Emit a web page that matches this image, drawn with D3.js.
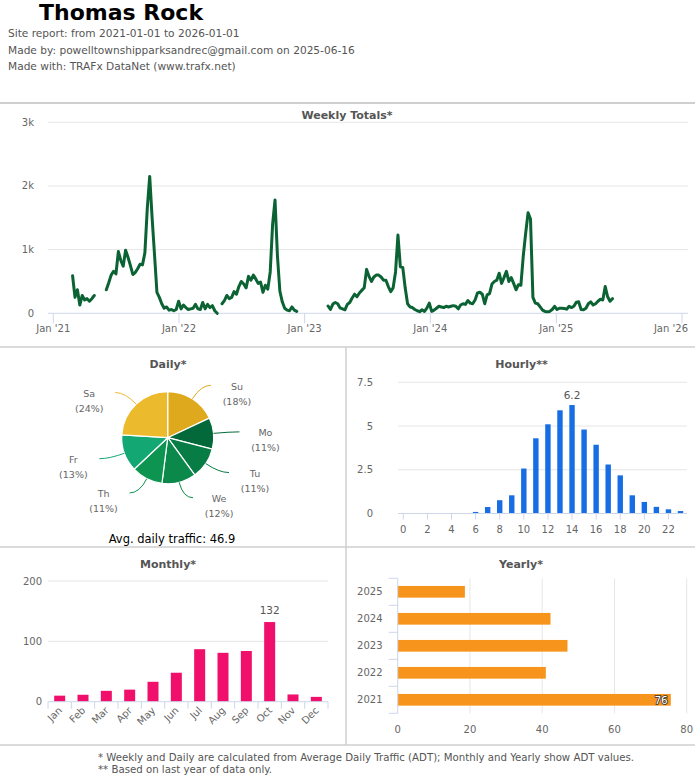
<!DOCTYPE html>
<html><head><meta charset="utf-8">
<script src="https://cdn.jsdelivr.net/npm/d3@7"></script>
<style>
body{margin:0;background:#fff;}
svg{display:block;font-family:"DejaVu Sans",sans-serif;}
</style>
</head><body>
<svg id="c" width="695" height="775"></svg>
<script>
// ---------- DATA ----------
const siteName = "Thomas Rock";
const subtitleLines = [
  "Site report: from 2021-01-01 to 2026-01-01",
  "Made by: powelltownshipparksandrec@gmail.com on 2025-06-16",
  "Made with: TRAFx DataNet (www.trafx.net)"
];
const weeklyStart = "2021-01-01";
const weeklyTotals = [
  null,null,null,null,null,null,null,null,
  590,250,370,130,280,210,230,190,230,280,
  null,null,null,null,
  370,480,600,660,620,970,830,740,990,880,
  750,610,640,700,770,760,950,1650,2150,1500,
  920,330,250,150,80,100,50,60,40,60,
  190,70,130,90,60,70,80,140,70,60,
  170,70,140,90,120,40,0,
  null,
  150,200,280,230,250,340,300,420,500,460,
  400,580,520,600,540,470,490,330,440,380,
  650,1400,1780,900,350,180,80,50,40,100,
  50,30,
  null,null,null,null,null,null,null,null,null,null,null,null,
  115,60,145,170,150,
  85,70,55,140,170,240,300,260,320,360,
  400,690,580,500,570,600,600,570,520,520,
  420,340,400,650,1230,730,720,400,150,100,
  90,60,40,25,55,30,80,160,30,50,
  80,110,100,90,110,100,110,120,110,70,
  130,150,140,200,160,150,210,320,330,300,
  150,290,310,460,500,520,630,470,560,660,
  500,560,470,370,450,440,900,1260,1580,1480,
  250,160,150,100,50,30,25,30,60,110,
  60,80,80,75,65,110,90,110,175,180,
  60,55,80,150,180,130,150,190,220,210,
  420,260,190,230
];
const weeklyYTicks = [0, 1000, 2000, 3000];
const weeklyYLabels = ["0", "1k", "2k", "3k"];
const weeklyXTicks = ["2021-01-01","2022-01-01","2023-01-01","2024-01-01","2025-01-01","2026-01-01"];
const weeklyXLabels = ["Jan '21","Jan '22","Jan '23","Jan '24","Jan '25","Jan '26"];

const dayNames = ["Su","Mo","Tu","We","Th","Fr","Sa"];
const dayShares = [18, 11, 11, 12, 11, 13, 24];
const dayColors = ["#dea91d","#04693a","#077c44","#0a894b","#0d9451","#12a773","#ebbb2d"];
const avgDaily = 46.9;

const hours = [0,1,2,3,4,5,6,7,8,9,10,11,12,13,14,15,16,17,18,19,20,21,22,23];
const hourlyValues = [0.02,0.01,0.01,0.01,0.01,0.02,0.09,0.37,0.76,1.04,2.57,4.3,5.1,5.9,6.2,4.8,3.93,2.8,2.18,1.04,0.66,0.38,0.24,0.14];
const hourlyYTicks = [0, 2.5, 5, 7.5];
const hourlyXTicks = [0,2,4,6,8,10,12,14,16,18,20,22];

const months = ["Jan","Feb","Mar","Apr","May","Jun","Jul","Aug","Sep","Oct","Nov","Dec"];
const monthlyValues = [10, 11.5, 18, 20, 33, 48, 87, 81, 84, 132, 12, 8];
const monthlyYTicks = [0, 100, 200];

const years = ["2025","2024","2023","2022","2021"];
const yearlyValues = [18.6, 42.3, 47, 41, 75.6];
const yearlyXTicks = [0, 20, 40, 60, 80];

const footnotes = [
  "* Weekly and Daily are calculated from Average Daily Traffic (ADT); Monthly and Yearly show ADT values.",
  "** Based on last year of data only."
];

// ---------- STYLE ----------
const GRID = "#e6e6e6", AXIS = "#ccd6eb", LBL = "#666", TTL = "#555", SEP = "#cfcfcf";
const svg = d3.select("#c");
svg.append("rect").attr("width",695).attr("height",775).attr("fill","#fff");

// header
svg.append("text").attr("x",39).attr("y",19.5).attr("font-size",22).attr("font-weight","bold")
  .attr("fill","#000").text(siteName);
svg.selectAll("text.sub").data(subtitleLines).join("text").attr("class","sub")
  .attr("x",8).attr("y",(d,i)=>37+i*16.5).attr("font-size",10.6).attr("fill",TTL).text(d=>d);

// separators
const seps = [[0,103,695,103,2],[0,347,695,347,1.5],[0,547,695,547,1.5],[346,347,346,745,1.5],[0,745,695,745,1.5]];
svg.selectAll("line.sep").data(seps).join("line").attr("class","sep")
  .attr("x1",d=>d[0]).attr("y1",d=>d[1]).attr("x2",d=>d[2]).attr("y2",d=>d[3])
  .attr("stroke",SEP).attr("stroke-width",d=>d[4]);

function title(x,y,t){
  svg.append("text").attr("x",x).attr("y",y).attr("text-anchor","middle").attr("font-size",11)
    .attr("font-weight","bold").attr("fill",TTL).text(t);
}

// ---------- WEEKLY ----------
{
  const parse = d3.timeParse("%Y-%m-%d");
  const start = parse(weeklyStart);
  const data = weeklyTotals.map((v,i)=>({d:d3.timeDay.offset(start, i*7), v}));
  const x = d3.scaleTime().domain([parse("2021-01-01"), parse("2026-01-01")]).range([53.3, 682]);
  const y = d3.scaleLinear().domain([0,3000]).range([313.3, 122.3]);
  title(347, 118.5, "Weekly Totals*");
  const g = svg.append("g");
  g.selectAll("line.grid").data(weeklyYTicks.slice(1)).join("line")
    .attr("x1",48).attr("x2",688).attr("y1",d=>y(d)).attr("y2",d=>y(d)).attr("stroke",GRID);
  g.append("line").attr("x1",48).attr("x2",688).attr("y1",y(0)).attr("y2",y(0)).attr("stroke",AXIS);
  g.selectAll("text.yl").data(weeklyYTicks).join("text").attr("x",34).attr("y",d=>y(d)).attr("dy","0.35em")
    .attr("text-anchor","end").attr("font-size",10).attr("fill",LBL).text((d,i)=>weeklyYLabels[i]);
  const xt = weeklyXTicks.map(parse);
  g.selectAll("line.xt").data(xt).join("line").attr("x1",d=>x(d)).attr("x2",d=>x(d))
    .attr("y1",y(0)).attr("y2",y(0)+10).attr("stroke",AXIS);
  g.selectAll("text.xl").data(xt).join("text")
    .attr("x",(d,i)=> i===xt.length-1 ? 688 : x(d)).attr("y",331.5)
    .attr("text-anchor",(d,i)=> i===xt.length-1 ? "end" : "middle")
    .attr("font-size",10).attr("fill",LBL).text((d,i)=>weeklyXLabels[i]);
  const line = d3.line().defined(d=>d.v!=null).x(d=>x(d.d)).y(d=>y(d.v));
  g.append("path").datum(data).attr("d",line).attr("fill","none").attr("stroke","#0b6334")
    .attr("stroke-width",3).attr("stroke-linejoin","round").attr("stroke-linecap","round");
}

// ---------- DAILY PIE ----------
{
  title(168, 368, "Daily*");
  const cx = 167.7, cy = 437.7, r = 46;
  const pie = d3.pie().sort(null).startAngle(0).endAngle(2*Math.PI);
  const arcs = pie(dayShares);
  const arc = d3.arc().innerRadius(0).outerRadius(r);
  const g = svg.append("g").attr("transform",`translate(${cx},${cy})`);
  g.selectAll("path.sl").data(arcs).join("path").attr("d",arc).attr("fill",(d,i)=>dayColors[i])
    .attr("stroke","#fff").attr("stroke-width",1.2).attr("stroke-linejoin","round");
  arcs.forEach((a,i)=>{
    const m = (a.startAngle+a.endAngle)/2;
    const sx = Math.sin(m)*r, sy = -Math.cos(m)*r;
    const ex = Math.sin(m)*62, ey = -Math.cos(m)*62;
    const right = Math.sin(m) >= 0;
    const tx = ex + (right?10:-10), ty = ey;
    g.append("path").attr("d",`M${sx},${sy} Q${ex},${ey} ${tx},${ty}`)
      .attr("fill","none").attr("stroke",dayColors[i]).attr("stroke-width",1);
    const lx = tx + (right?26:-26);
    const t = g.append("text").attr("text-anchor","middle").attr("font-size",9.5).attr("fill",LBL);
    t.append("tspan").attr("x",lx).attr("y",ty+4.5).text(dayNames[i]);
    t.append("tspan").attr("x",lx).attr("y",ty+19.2).text(`(${dayShares[i]}%)`);
  });
  svg.append("text").attr("x",172).attr("y",543).attr("text-anchor","middle").attr("font-size",11.5)
    .attr("fill","#000").text(`Avg. daily traffic: ${avgDaily}`);
}

// ---------- HOURLY ----------
{
  title(521.5, 368, "Hourly**");
  const x = d3.scaleLinear().domain([-0.44, 23.54]).range([398, 687]);
  const y = d3.scaleLinear().domain([0,7.5]).range([513.5, 382.3]);
  const g = svg.append("g");
  g.selectAll("line.grid").data(hourlyYTicks.slice(1)).join("line")
    .attr("x1",398).attr("x2",687).attr("y1",d=>y(d)).attr("y2",d=>y(d)).attr("stroke",GRID);
  g.selectAll("text.yl").data(hourlyYTicks).join("text").attr("x",373).attr("y",d=>y(d)).attr("dy","0.35em")
    .attr("text-anchor","end").attr("font-size",10).attr("fill",LBL).text(d=>d);
  const bw = 5.4;
  g.selectAll("rect.b").data(hourlyValues).join("rect")
    .attr("x",(d,i)=>x(hours[i])-bw/2).attr("width",bw)
    .attr("y",d=>y(d)).attr("height",d=>y(0)-y(d)).attr("fill","#176de3");
  g.append("line").attr("x1",398).attr("x2",687).attr("y1",y(0)).attr("y2",y(0)).attr("stroke",AXIS);
  g.selectAll("line.xt").data(hourlyXTicks).join("line").attr("x1",d=>x(d)).attr("x2",d=>x(d))
    .attr("y1",y(0)).attr("y2",y(0)+6).attr("stroke",AXIS);
  g.selectAll("text.xl").data(hourlyXTicks).join("text").attr("x",d=>x(d)).attr("y",533)
    .attr("text-anchor","middle").attr("font-size",10).attr("fill",LBL).text(d=>d);
  const mi = hourlyValues.indexOf(d3.max(hourlyValues));
  g.append("text").attr("x",x(hours[mi])).attr("y",y(hourlyValues[mi])-6).attr("text-anchor","middle")
    .attr("font-size",10.5).attr("fill",TTL).text(hourlyValues[mi]);
}

// ---------- MONTHLY ----------
{
  title(168, 568, "Monthly*");
  const xb = d3.scaleBand().domain(months).range([48, 328]);
  const y = d3.scaleLinear().domain([0,200]).range([701.7, 581]);
  const g = svg.append("g");
  g.selectAll("line.grid").data(monthlyYTicks.slice(1)).join("line")
    .attr("x1",48).attr("x2",328).attr("y1",d=>y(d)).attr("y2",d=>y(d)).attr("stroke",GRID);
  g.selectAll("text.yl").data(monthlyYTicks).join("text").attr("x",42).attr("y",d=>y(d)).attr("dy","0.35em")
    .attr("text-anchor","end").attr("font-size",10).attr("fill",LBL).text(d=>d);
  g.selectAll("rect.b").data(monthlyValues).join("rect")
    .attr("x",(d,i)=>xb(months[i])+xb.bandwidth()/2-5.5).attr("width",11)
    .attr("y",d=>y(d)).attr("height",d=>y(0)-y(d)).attr("fill","#f0106b");
  g.append("line").attr("x1",48).attr("x2",328).attr("y1",y(0)).attr("y2",y(0)).attr("stroke",AXIS);
  const bounds = months.map(m=>xb(m)).concat([328]);
  g.selectAll("line.xt").data(bounds).join("line").attr("x1",d=>d).attr("x2",d=>d)
    .attr("y1",y(0)).attr("y2",y(0)+7).attr("stroke",AXIS);
  g.selectAll("text.xl").data(months).join("text")
    .attr("transform",d=>`translate(${xb(d)+xb.bandwidth()/2+3},${711}) rotate(-45)`)
    .attr("text-anchor","end").attr("font-size",10).attr("fill",LBL).text(d=>d);
  const mi = monthlyValues.indexOf(d3.max(monthlyValues));
  g.append("text").attr("x",xb(months[mi])+xb.bandwidth()/2).attr("y",y(monthlyValues[mi])-8)
    .attr("text-anchor","middle").attr("font-size",10.5).attr("fill",TTL).text(monthlyValues[mi]);
}

// ---------- YEARLY ----------
{
  title(521, 568, "Yearly*");
  const y = d3.scaleBand().domain(years).range([578.3, 713.3]);
  const x = d3.scaleLinear().domain([0,80]).range([397.7, 686.7]);
  const g = svg.append("g");
  g.selectAll("line.grid").data(yearlyXTicks.slice(1)).join("line")
    .attr("x1",d=>x(d)).attr("x2",d=>x(d)).attr("y1",578.3).attr("y2",713.3).attr("stroke",GRID);
  const bh = 11.7;
  g.selectAll("rect.b").data(yearlyValues).join("rect")
    .attr("x",x(0)).attr("width",d=>x(d)-x(0))
    .attr("y",(d,i)=>y(years[i])+y.bandwidth()/2-bh/2).attr("height",bh).attr("fill","#f7941c");
  g.append("line").attr("x1",x(0)).attr("x2",x(0)).attr("y1",578.3).attr("y2",713.3).attr("stroke",AXIS);
  const bounds = years.map(v=>y(v)).concat([713.3]);
  g.selectAll("line.yt").data(bounds).join("line").attr("x1",x(0)-9).attr("x2",x(0))
    .attr("y1",d=>d).attr("y2",d=>d).attr("stroke",AXIS);
  g.selectAll("text.yl").data(years).join("text").attr("x",382.5).attr("y",d=>y(d)+y.bandwidth()/2)
    .attr("dy","0.35em").attr("text-anchor","end").attr("font-size",10).attr("fill",LBL).text(d=>d);
  g.selectAll("text.xl").data(yearlyXTicks).join("text").attr("x",d=>x(d)).attr("y",733)
    .attr("text-anchor","middle").attr("font-size",10).attr("fill",LBL).text(d=>d);
  const mi = yearlyValues.indexOf(d3.max(yearlyValues));
  g.append("text").attr("x",x(yearlyValues[mi])-3).attr("y",y(years[mi])+y.bandwidth()/2).attr("dy","0.36em")
    .attr("text-anchor","end").attr("font-size",10.5).attr("fill","#fff")
    .attr("stroke","#333").attr("stroke-width",1.6).attr("paint-order","stroke")
    .text(Math.round(yearlyValues[mi]));
}

// ---------- FOOTER ----------
svg.selectAll("text.foot").data(footnotes).join("text").attr("class","foot")
  .attr("x",98).attr("y",(d,i)=>760.5+i*12).attr("font-size",10.2).attr("fill",TTL).text(d=>d);
</script>
</body></html>
